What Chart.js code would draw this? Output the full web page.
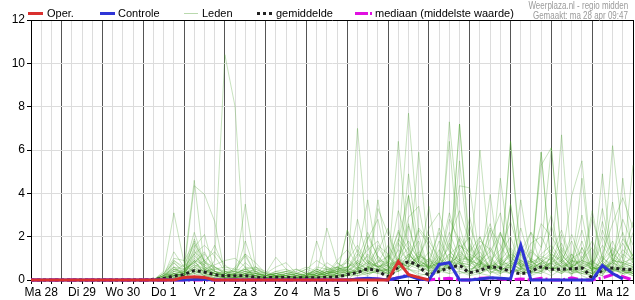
<!DOCTYPE html>
<html lang="nl">
<head>
<meta charset="UTF-8" />
<title>Neerslag pluim</title>
<script src="https://cdn.jsdelivr.net/npm/chart.js"></script>
<style>
  body { margin: 0; background: #fff; font-family: "Liberation Sans", Arial, sans-serif; }
  #wrap { position: relative; width: 635px; height: 300px; }
  canvas { position: absolute; left: 0; top: 0; }
  .leg { position: absolute; top: 6px; font-size: 11px; color: #000; line-height: 14px; white-space: nowrap; }
  .leg svg { position: absolute; left: 0; top: 0; }
  .credit { position: absolute; right: 7px; font-size: 10.5px; color: #9a9a9a; line-height: 12px;
            text-align: right; white-space: nowrap; transform: scaleX(0.76); transform-origin: right center; }
</style>
</head>
<body>
<div id="wrap">
  <canvas id="chart" width="635" height="300"></canvas>

  <!-- legenda -->
  <div class="leg" style="left:28px"><svg width="16" height="14"><line x1="0" y1="7.5" x2="15" y2="7.5" stroke="#d9302f" stroke-width="3"/></svg><span style="margin-left:19px">Oper.</span></div>
  <div class="leg" style="left:100px"><svg width="16" height="14"><line x1="0" y1="7.5" x2="15" y2="7.5" stroke="#2f35d6" stroke-width="3"/></svg><span style="margin-left:18px">Controle</span></div>
  <div class="leg" style="left:184px"><svg width="16" height="14"><line x1="0" y1="7.5" x2="14" y2="7.5" stroke="#b9d9ad" stroke-width="1"/></svg><span style="margin-left:18px">Leden</span></div>
  <div class="leg" style="left:257px"><svg width="16" height="14"><line x1="0" y1="7.5" x2="15" y2="7.5" stroke="#222" stroke-width="3" stroke-dasharray="3,3"/></svg><span style="margin-left:19px">gemiddelde</span></div>
  <div class="leg" style="left:355px"><svg width="18" height="14"><line x1="0" y1="7.5" x2="17" y2="7.5" stroke="#e010e0" stroke-width="3" stroke-dasharray="13,2,2,3"/></svg><span style="margin-left:20px">mediaan (middelste waarde)</span></div>

  <div class="credit" style="top:-1px">Weerplaza.nl - regio midden</div>
  <div class="credit" style="top:9px">Gemaakt: ma 28 apr 09:47</div>
</div>

<script>
  // dagen (label op 12 uur), stappen van 6 uur vanaf ma 28 06:00
  const days = ['Ma 28', 'Di 29', 'Wo 30', 'Do 1', 'Vr 2', 'Za 3', 'Zo 4', 'Ma 5',
                'Di 6', 'Wo 7', 'Do 8', 'Vr 9', 'Za 10', 'Zo 11', 'Ma 12'];
  const lastStep = 59;

  // operationele run (loopt tot do 8 00:00)
  const oper = [0,0,0, 0,0,0,0, 0,0,0,0, 0,0,0,0, .12,.15,.12,0, 0,0,0,0, 0,0,0,0,
                0,0,0,0, 0,0,0,0, 0,.86,.25,.12, 0];

  const controle = [0,0,0, 0,0,0,0, 0,0,0,0, 0,0,0,0, 0,.02,.02,0, 0,0,0,0, 0,0,0,0,
                    0,0,0,0, 0,.05,.08,.05, 0,.1,.2,.05, 0,.72,.8,0, 0,.05,.1,.08,
                    .05,1.6,0,0, 0,0,0,0, 0,.67,.3,.05];

  const gemiddelde = [0,0,0, 0,0,0,0, 0,0,0,0, 0,.03,.08,.18, .25,.43,.37,.25, .2,.2,.2,.12,
                      .1,.12,.12,.1, .1,.1,.12,.15, .25,.35,.5,.42, .17,.6,.83,.64,
                      .25,.4,.56,.65, .35,.45,.6,.55, .4,.3,.4,.6, .5,.5,.52,.55,
                      .12,.45,.55,.5, .48];

  const mediaan = [0,0,0, 0,0,0,0, 0,0,0,0, 0,0,0,0, 0,0,0,0, 0,0,0,0, 0,0,0,0,
                   0,0,0,0, 0,.05,.05,.05, 0,.1,.25,.05, 0,.05,.08,0, 0,.08,.1,.05,
                   0,.05,0,.08, 0,0,.1,0, 0,.1,.25,.15, 0];

  // ensembleleden vanaf do 1 00:00 (stap 11)
  const memberStart = 11;
  const leden = [
    [0,0,.4,3.1, .8,.3,.1,0, 0,0,.1,0, 0,0,0,0, 0,.2,.5,.3, 0,.4,1.2,.6, .2,1.5,7.7,2.1, .4,.8,2.2,1.0, .3,.9,.5,1.2, 2.0,.6,.2,.4, 1.1,.3,.6,1.8, .4,.2,1.0,.5, .3],
    [0,0,.2,1.3, .6,4.6,.6,.3, .4,.2,.6,.1, 0,.2,0,0, 0,0,.2,.8, .4,.3,.6,3.7, .9,.5,1.1,1.8, .3,.6,7.3,2.5, .8,1.6,.4,.2, 6.4,1.2,.5,.8, .3,1.4,.6,.2, 0,.5,6.2,2.0, 1.1],
    [0,0,0,.5, .3,.5,.2,.9, 10.4,8.0,.5,.3, .1,0,0,0, 0,.1,.4,.2, .2,7.0,1.5,.4, 1.2,.4,2.5,.8, 3.4,.5,.6,7.2, 1.0,.3,.6,.4, .8,.5,.2,1.5, 6.1,1.0,.4,.3, .2,.8,.4,.7, 2.2],
    [0,0,.3,.8, .4,4.35,3.95,2.7, .3,.4,.2,.6, .3,.2,.1,0, 0,1.8,.4,.3, .2,.5,.4,1.1, .6,6.4,1.3,.5, .2,.9,1.5,4.35, 4.25,.9,.3,.7, 3.5,.6,.4,.3, 1.2,.8,.2,1.5, .4,.3,.6,.2, .5],
    [0,0,.1,.9, .5,2.2,.8,.6, .4,.4,3.5,.6, .2,.1,0,0, .1,.3,2.4,.8, .5,1.1,3.7,.9, .3,.7,3.9,1.2, .6,1.2,6.4,.9, .2,.5,.8,.3, .6,.4,.3,5.9, .5,.3,1.2,.4, .2,1.1,.5,.3, .6],
    [0,0,0,.8, .3,1.5,2.1,.4, .2,.2,1.8,.4, .1,0,0,.1, .2,.5,.3,.2, 2.3,.6,.4,3.3, 2.1,.9,.6,5.9, 1.0,.4,.8,5.5, .9,.3,.2,4.7, 1.1,.6,.9,.5, .8,.4,.3,.6, .3,4.9,.8,.4, .2],
    [0,0,.2,.6, .2,1.3,.9,.3, .1,.6,1.2,.8, .3,1.05,.5,.2, .1,0,.3,.6, .4,.8,.5,.7, .4,.6,4.9,1.4, .5,.8,.6,7.2, 1.5,.6,3.95,.5, .3,.5,.6,.4, .8,6.7,.5,.3, .6,.4,.3,4.7, .8],
    [0,0,.1,.4, .7,1.6,.5,.2, .3,.1,.2,.3, .2,.4,.5,.3, .2,.1,.2,.3, 2.3,1.3,.6,.5, .3,.8,1.2,.7, .4,.6,1.1,.8, .5,.7,.5,.6, .4,3.7,.8,5.3, 6.1,1.2,.6,.4, .3,.7,.5,.3, .4],
    [0,0,0,.3, .2,1.1,.7,.4, .2,.1,.3,.2, .1,.2,.1,.1, .3,.2,.4,.3, .6,.9,2.2,1.0, .4,.8,.6,1.1, .5,1.8,.9,.6, .4,.5,.9,.6, 6.4,.8,.4,.6, .5,.9,3.9,5.5, .6,.4,.8,.5, .3],
    [0,0,.2,.5, .4,1.4,.4,.3, .2,.3,.4,.2, .1,.1,.3,.2, .1,.4,.3,.5, .3,.6,.4,.9, .8,.5,1.2,.7, .6,1.0,.5,.8, .7,.4,.6,.3, 3.5,.5,.7,5.9, .4,.8,.6,4.7, .5,.6,.4,.4, .3],
    [0,0,0,.2, .3,.9,.3,.1, .1,.2,.1,.1, 0,.1,.2,.1, .2,.4,.2,.1, .3,.5,.8,.6, .4,1.0,.7,.5, .3,.6,.4,.9, .8,.6,.7,.5, .6,.3,.4,.7, .5,.3,.6,.9, .7,.5,.8,.6, 5.3],
    [0,0,.3,.2, .5,.8,1.2,.6, .3,.4,1.2,.3, .2,.3,.2,.5, .3,.2,.6,.4, .5,1.4,.8,.6, .7,1.8,3.9,.9, .6,.5,.7,1.2, .9,1.3,.6,.8, 1.2,.7,.5,.8, .6,.5,.9,.7, .5,.6,.4,1.2, .8],
    [0,0,.1,.3, .4,.7,.5,.3, .2,.3,.5,.2, .1,.2,.1,.3, .5,.3,.2,.6, .4,.7,1.1,.6, .9,2.2,1.4,.8, .4,1.1,.6,.8, .7,6.0,1.0,.5, .6,.8,.5,.4, .9,.6,.5,1.1, .4,.7,.6,.5, .6],
    [0,0,0,.1, .2,.5,.4,.2, .1,.1,.2,.1, 0,.1,.1,.2, .1,.2,.3,.5, .6,.8,.5,1.6, 1.2,.6,.9,2.4, 1.8,1.0,.6,1.3, .9,1.8,1.4,.7, .8,1.2,.6,1.0, 1.4,.8,2.1,.9, .7,1.6,.9,.8, 1.0],
    [0,0,.2,.6, .3,1.0,.6,.3, .2,.2,.4,.3, .2,.3,.2,.1, .1,.3,.2,.4, .3,.4,.3,.5, .3,.4,.6,1.0, 2.1,.7,1.2,1.6, 1.3,2.0,.8,.6, 1.2,.9,.7,.5, .8,2.1,.7,.6, .4,.9,1.8,.7, .5],
    [0,0,.1,.2, .3,.6,.3,.2, .1,.1,.3,.1, .1,.2,.3,.2, .4,.2,.1,.2, .2,.3,.6,.4, .5,.9,.6,1.2, .8,.6,.9,.7, 2.5,1.1,.6,2.2, .9,.6,.8,1.0, .6,.4,.9,.8, .6,2.7,1.0,.6, .7],
    [0,0,0,.2, .1,.4,.2,.1, 0,.1,.1,.2, .1,0,.1,.1, .1,.1,.2,.1, .3,.4,.2,.5, .4,.6,.5,.4, .6,.4,.3,1.4, 2.0,.8,.5,.4, .7,.3,.6,.8, 1.2,.9,.4,.5, .8,.6,.5,.4, .3],
    [0,0,0,.1, .2,.3,.2,.1, .1,.1,.2,.1, 0,.1,0,.1, .1,.2,.1,.3, .2,.5,.3,.4, .3,.4,.8,.6, .4,.5,.3,.4, .3,.6,.4,.3, .5,.4,.3,.6, .4,.7,.3,.5, .3,.4,.6,.3, .4],
    [0,0,.1,.3, .1,.4,.3,.2, .1,.1,.1,.1, .1,.1,.2,.1, .1,.1,.2,.2, .4,.3,.5,.3, .2,1.0,.5,.3, .2,.4,.6,.3, .4,.3,.5,.6, .3,.5,.4,.3, .6,.4,.5,.3, .2,.8,.4,.6, .3],
    [0,0,0,.2, .2,.5,.2,.2, .1,.1,.3,.2, .1,.2,.1,0, .2,.1,.1,.2, .2,.2,.4,.5, .3,.6,.5,.2, .3,.3,.9,.4, .2,.3,.6,.4, .3,.6,.3,.4, .2,.5,.3,.4, .3,.2,.9,.4, .2],
    [0,0,.1,.5, .3,1.8,.6,.4, .2,.3,.8,.4, .2,.3,.2,.1, .2,.3,.5,.6, .8,.5,1.9,2.8, .6,.9,2.6,.8, .7,2.4,1.3,.9, 2.9,.8,.6,2.1, 1.3,.7,.9,2.6, 2.0,1.2,.6,.9, .5,2.3,1.1,2.8, 1.6],
    [0,0,.2,.9, .6,1.2,1.6,1.1, .4,.2,.3,.4, .2,.1,.3,.4, .6,.4,.2,.5, .6,2.8,.9,.6, .8,3.2,1.6,1.0, .5,.9,3.1,1.4, .8,1.4,2.6,.9, .6,1.3,2.2,1.5, 3.0,.8,1.2,.5, .9,3.3,1.1,.7, .8],
    [0,0,0,.4, .3,.9,.7,1.6, .5,.4,.3,.2, .1,.2,.2,.3, .2,.5,.3,.9, 1.4,.7,.5,.8, 1.6,.8,2.9,3.4, .9,2.2,.7,1.6, 1.1,.6,1.9,3.1, .7,2.4,.8,1.1, .9,1.7,.6,1.0, 1.8,.8,3.6,.9, .7],
    [0,0,.1,.2, .2,.8,.5,.3, .3,.2,.2,.1, .1,.3,.4,.2, .3,.2,.4,.3, .9,1.6,.8,.4, .5,1.1,1.8,.9, 2.4,3.1,1.4,.7, .6,2.0,.9,1.4, 2.7,1.1,.5,.8, 1.3,2.3,.9,.6, .4,1.2,2.6,3.8, 2.4],
    [0,0,.3,1.0, .9,1.7,.9,.5, .6,.5,.4,.3, .2,.4,.3,.2, .1,.2,.3,.2, .5,1.2,.7,1.5, .8,2.3,1.0,.6, .7,.5,1.9,3.2, 1.7,.7,1.1,.5, 1.4,.6,1.0,.7, 2.5,1.0,.4,.8, .5,.9,1.4,.6, 1.2],
    [0,0,0,.3, .2,.6,.9,1.3, .7,.3,.5,.6, .4,.2,.1,.2, .2,.6,.5,.4, .3,.4,2.0,1.1, .5,1.4,.9,2.3, 1.6,.6,.8,1.1, .9,.7,2.4,1.6, .8,.5,1.3,.9, .7,.9,1.8,.5, 2.9,1.0,.7,1.4, .9],
    [0,0,.1,.3, .2,.7,.4,.5, .4,.3,.2,.2, .1,.1,.2,.3, .5,.9,.6,.3, .4,.3,.6,.8, 1.1,.5,.9,.7, .6,.8,.5,2.0, 1.2,.9,.6,.9, 1.5,.8,2.2,.6, .8,1.1,.7,.9, 1.5,.6,.8,1.9, 1.1],
    [0,0,0,.1, .1,.3,.5,.3, .2,.1,.2,.3, .2,.3,.2,.1, .2,.3,.8,.5, .4,.9,.6,.5, .7,.9,1.5,.6, 1.0,.7,1.2,.5, 1.6,.8,.5,1.0, .6,1.3,.7,.9, .5,.6,1.0,1.3, .4,2.0,.9,.8, .6],
    [0,0,.2,.4, .3,1.2,.5,.7, .9,1.0,.6,.5, .3,.2,.2,.1, .1,.2,.4,.6, .3,.8,1.4,1.8, .6,.6,.7,1.1, .9,.5,1.7,.8, .4,.9,1.3,2.2, 1.0,.7,1.7,2.0, 1.1,.6,.8,2.3, .6,.4,1.5,1.0, 2.7],
    [0,0,.1,.2, .4,.9,.3,.2, .2,.2,.4,.2, .1,.2,.1,.1, .3,.4,.2,.1, .2,.6,.4,.3, .5,.7,1.1,.8, .5,1.4,.6,.9, 1.1,.5,.7,.6, .9,.4,.6,1.2, 1.6,.9,.6,.5, .3,.7,1.2,.8, .6],
    [0,0,0,.2, .3,1.9,.8,.4, .3,.5,1.1,.3, .2,.3,.4,.5, .3,.2,.1,.3, .5,.4,.9,.6, .8,1.9,1.2,.7, 1.3,.6,2.8,1.8, .7,1.1,.6,.4, .8,1.6,.9,.5, .7,1.5,.8,3.0, .6,.5,.9,1.7, .8],
    [0,0,.1,.6, .5,.8,1.3,.4, .3,.2,.3,.5, .3,.6,.8,.3, .2,.1,.3,.4, .6,.3,.5,1.3, 2.4,.7,.5,.9, .6,.8,.6,1.0, .9,.7,1.5,.8, .5,.9,.6,.7, 1.0,.6,.4,.7, 3.2,.9,.5,.6, .4],
    [0,0,0,.1, .1,.4,.3,.6, .3,.2,.1,.2, .2,.2,.1,.2, .1,.3,.2,.2, .3,.2,.3,.4, .6,.4,.8,1.3, .7,.4,.6,.5, .4,.8,.3,.6, .7,.5,.9,.4, .6,.8,.5,.6, .9,.5,.7,.4, .5],
    [0,0,.2,.3, .2,.6,.4,.3, .2,.3,.5,.4, .3,.2,.4,.3, .2,.5,.3,.4, 1.0,.5,1.6,.7, .4,1.7,.8,.6, .9,.7,.5,1.9, .5,.6,2.3,.7, 1.1,.6,1.4,.9, .5,.7,.6,1.5, .6,.3,1.1,2.2, .9]
  ];

  function pts(arr, start) {
    return arr.map((v, i) => ({ x: start + i, y: v }));
  }

  const datasets = [
    { label: 'Oper.', data: pts(oper, 0), borderColor: '#d9302f', borderWidth: 3 },
    { label: 'Controle', data: pts(controle, 0), borderColor: '#2f35d6', borderWidth: 3 },
    { label: 'mediaan', data: pts(mediaan, 0), borderColor: '#e010e0', borderWidth: 3, borderDash: [10, 3, 2, 3] },
    { label: 'gemiddelde', data: pts(gemiddelde, 0), borderColor: '#222', borderWidth: 3, borderDash: [3, 3],
      tension: 0.4, cubicInterpolationMode: 'monotone' }
  ];
  leden.forEach((m, k) => {
    datasets.push({ label: 'Leden ' + (k + 1), data: pts(m, memberStart),
                    borderColor: 'rgba(70,160,40,0.3)', borderWidth: 1 });
  });

  const font = { family: '"Liberation Sans", Arial, sans-serif', size: 12 };

  new Chart(document.getElementById('chart'), {
    type: 'line',
    data: { datasets: datasets },
    options: {
      responsive: false,
      animation: false,
      devicePixelRatio: 1,
      layout: { padding: { top: 20, right: 2, left: 0, bottom: 0 } },
      elements: { point: { radius: 0 }, line: { tension: 0, fill: false } },
      datasets: { line: { clip: 6 } },
      plugins: { legend: { display: false }, tooltip: { enabled: false } },
      scales: {
        x: {
          type: 'linear', min: 0, max: lastStep,
          afterFit: s => { s.height = 20; },
          ticks: {
            stepSize: 1, autoSkip: false, maxRotation: 0, padding: 1,
            color: '#000', font: font,
            callback: v => (v % 4 === 1 ? days[(v - 1) / 4] : '')
          },
          grid: {
            color: c => {
              const v = c.tick ? c.tick.value : 0;
              if (v === lastStep) return '#000';
              return (v + 1) % 4 === 0 ? '#555' : '#dcdcdc';
            },
            lineWidth: 1, tickLength: 4, tickColor: '#000'
          },
          border: { display: true, color: '#000', width: 1 }
        },
        y: {
          min: 0, max: 12,
          afterFit: s => { s.width = 31; },
          ticks: { stepSize: 2, color: '#000', font: font, padding: 2 },
          grid: {
            color: c => (c.tick && c.tick.value === 12 ? '#000' : '#dcdcdc'),
            lineWidth: 1, tickLength: 4, tickColor: '#000'
          },
          border: { display: true, color: '#000', width: 1 }
        }
      }
    }
  });
</script>
</body>
</html>
